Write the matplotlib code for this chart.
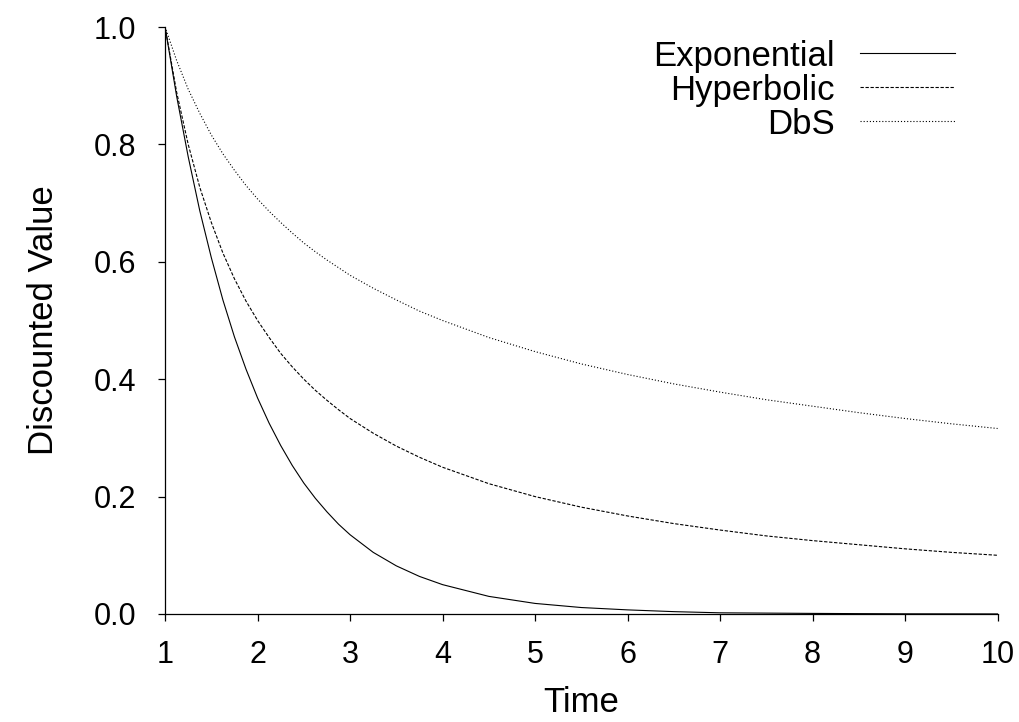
import matplotlib
matplotlib.use('Agg')
import matplotlib.pyplot as plt

plt.rcParams['font.family'] = ['Liberation Sans', 'DejaVu Sans']

# values
time = [1, 1.125, 1.25, 1.375, 1.5, 1.625, 1.75, 1.875, 2, 2.125, 2.25, 2.375,
        2.5, 2.625, 2.75, 2.875, 3, 3.25, 3.5, 3.75, 4,
        4.5, 5, 5.5, 6, 6.5, 7, 7.5, 8, 8.5, 9, 9.5, 10]
exponential = [1.000, 0.882, 0.779, 0.687, 0.607, 0.535, 0.472, 0.417, 0.368,
               0.325, 0.287, 0.253, 0.223, 0.197, 0.174, 0.153, 0.135,
               0.105, 0.082, 0.064, 0.050, 0.030, 0.018, 0.011, 0.007, 0.004,
               0.002, 0.0015, 0.001, 0.0006, 0.0003, 0.0002, 0.0001]
hyperbolic = [1.000, 0.889, 0.800, 0.727, 0.667, 0.615, 0.571, 0.533, 0.500,
              0.471, 0.444, 0.421, 0.400, 0.381, 0.364, 0.348, 0.333,
              0.308, 0.286, 0.267, 0.250, 0.222, 0.200, 0.182, 0.167, 0.154,
              0.143, 0.133, 0.125, 0.118, 0.111, 0.105, 0.100]
dbs = [1.000, 0.943, 0.894, 0.853, 0.816, 0.784, 0.756, 0.730, 0.707,
       0.686, 0.667, 0.649, 0.632, 0.617, 0.603, 0.590, 0.577, 0.555,
       0.535, 0.516, 0.500, 0.471, 0.447, 0.426, 0.408, 0.392, 0.378, 0.365,
       0.354, 0.343, 0.333, 0.324, 0.316]

x_ticks = [1, 2, 3, 4, 5, 6, 7, 8, 9, 10]
y_ticks = [0.0, 0.2, 0.4, 0.6, 0.8, 1.0]

fig = plt.figure(figsize=(10.19, 7.22), dpi=100)
ax = fig.add_axes([0.162, 0.1496, 0.817, 0.813])

lw = 0.8
ax.plot(time, exponential, color='black', lw=lw, ls='-', label='Exponential')
ax.plot(time, hyperbolic, color='black', lw=lw, ls=(0, (3, 1.5)), label='Hyperbolic')
ax.plot(time, dbs, color='black', lw=lw, ls=(0, (1, 1.8)), label='DbS')

ax.set_xlim(1, 10)
ax.set_ylim(0, 1)
ax.set_xticks(x_ticks)
ax.set_yticks(y_ticks)
ax.set_yticklabels(['%.1f' % v for v in y_ticks])

for s in ['top', 'right']:
    ax.spines[s].set_visible(False)
for s in ['left', 'bottom']:
    ax.spines[s].set_linewidth(0.9)

ax.tick_params(axis='both', direction='out', length=5, width=0.9,
               labelsize=22, colors='black')
ax.tick_params(axis='x', pad=14)
ax.tick_params(axis='y', pad=16)

ax.set_xlabel('Time', fontsize=25, labelpad=11)
ax.set_ylabel('Discounted Value', fontsize=25, labelpad=24)

leg = ax.legend(loc='upper right', bbox_to_anchor=(0.978, 1.02), frameon=False,
                markerfirst=False, fontsize=25, handlelength=2.74,
                labelspacing=0.03, handletextpad=0.72, borderpad=0.2)
for t in leg.get_texts():
    t.set_ha('right')

fig.savefig('out.png', dpi=100)
